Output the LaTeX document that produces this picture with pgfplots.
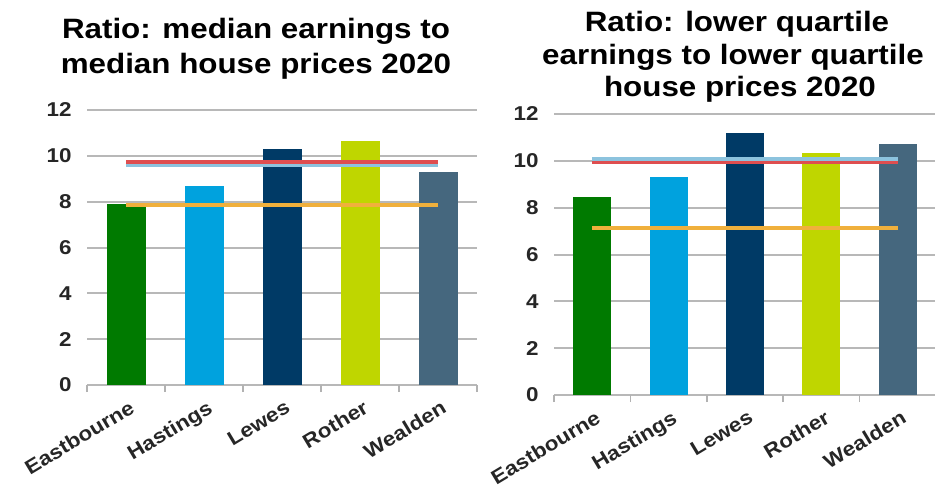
\documentclass[border=0pt]{standalone}
\usepackage{pgfplots}
\pgfplotsset{compat=1.18}
\usepackage{fontspec}
\setmainfont{Liberation Sans}[FakeStretch=1.12]
\definecolor{cE}{HTML}{007A00}
\definecolor{cH}{HTML}{00A2DE}
\definecolor{cL}{HTML}{003A66}
\definecolor{cR}{HTML}{BFD600}
\definecolor{cW}{HTML}{45677E}
\definecolor{lRed}{HTML}{DE4E50}
\definecolor{lBlue}{HTML}{8CC3DE}
\definecolor{lOra}{HTML}{F0B03C}
\pgfplotsset{
 mystyle/.style={
  scale only axis, xmin=-0.5, xmax=4.5, ymin=0, ymax=12,
  ytick={0,2,4,6,8,10,12}, yticklabels={0,2,4,6,8,10,12},
  xtick={0,1,2,3,4}, xticklabels={Eastbourne,Hastings,Lewes,Rother,Wealden},
  minor xtick={-0.5,0.5,1.5,2.5,3.5,4.5},
  ymajorgrids, grid style={line width=2pt, color=black!28},
  axis line style={draw=none},
  major tick length=0pt, minor tick length=7pt, tick align=outside,
  xtick pos=lower, ytick pos=left,
  minor x tick style={black!30, line width=1.5pt},
  yticklabel style={font=\fontsize{20}{20}\selectfont\bfseries, text=black!85, xshift=-12pt},
  xticklabel style={font=\fontsize{20}{20}\selectfont\bfseries, text=black!85, rotate=31, anchor=north east, yshift=-10pt, xshift=-2pt},
  clip=false,
 },
 mybar/.style={ybar, bar shift=0pt, draw=none, fill=#1},
 myline/.style={line width=4pt, color=#1, mark=none},
}
\begin{document}
\begin{tikzpicture}[x=1pt,y=1pt]
\useasboundingbox (0,0) rectangle (935,485);
% left chart
\node[anchor=base, font=\fontsize{28}{34}\selectfont\bfseries] at (256,446) {Ratio: median earnings to};
\node[anchor=base, font=\fontsize{28}{34}\selectfont\bfseries] at (256,411) {median house prices 2020};
\begin{axis}[mystyle, at={(87pt,100pt)}, anchor=south west, width=390pt, height=275pt, bar width=39pt]
\addplot[mybar=cE] coordinates {(0,7.9)};
\addplot[mybar=cH] coordinates {(1,8.7)};
\addplot[mybar=cL] coordinates {(2,10.3)};
\addplot[mybar=cR] coordinates {(3,10.65)};
\addplot[mybar=cW] coordinates {(4,9.3)};
\addplot[myline=lOra] coordinates {(0,7.85) (4,7.85)};
\addplot[myline=lBlue] coordinates {(0,9.6) (4,9.6)};
\addplot[myline=lRed] coordinates {(0,9.75) (4,9.75)};
\end{axis}
% right chart
\node[anchor=base, font=\fontsize{28}{34}\selectfont\bfseries] at (737,453) {Ratio: lower quartile};
\node[anchor=base, font=\fontsize{28}{34}\selectfont\bfseries] at (733,420) {earnings to lower quartile};
\node[anchor=base, font=\fontsize{28}{34}\selectfont\bfseries] at (740,388) {house prices 2020};
\begin{axis}[mystyle, at={(554pt,90pt)}, anchor=south west, width=382pt, height=281pt, bar width=38pt]
\addplot[mybar=cE] coordinates {(0,8.45)};
\addplot[mybar=cH] coordinates {(1,9.3)};
\addplot[mybar=cL] coordinates {(2,11.2)};
\addplot[mybar=cR] coordinates {(3,10.35)};
\addplot[mybar=cW] coordinates {(4,10.7)};
\addplot[myline=lOra] coordinates {(0,7.15) (4,7.15)};
\addplot[myline=lRed] coordinates {(0,9.97) (4,9.97)};
\addplot[myline=lBlue] coordinates {(0,10.08) (4,10.08)};
\end{axis}
\end{tikzpicture}
\end{document}
